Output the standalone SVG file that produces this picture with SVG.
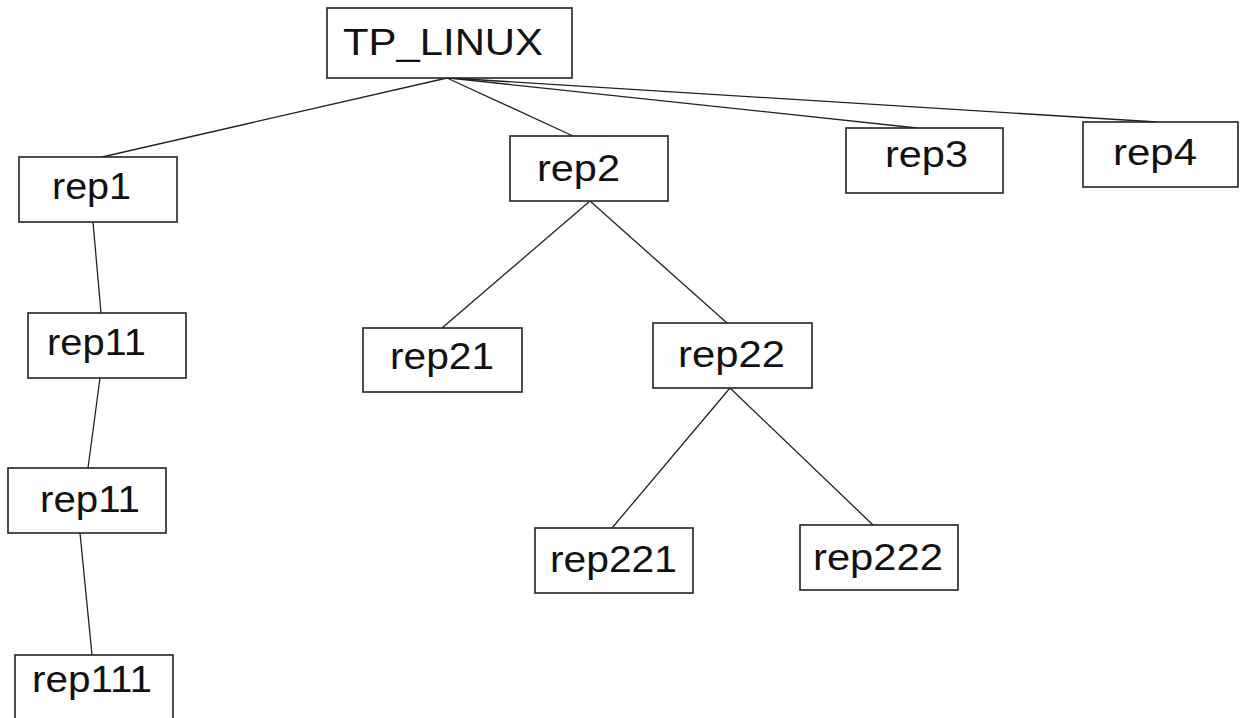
<svg xmlns="http://www.w3.org/2000/svg" width="1240" height="718" viewBox="0 0 1240 718">
<style>
.box{fill:#fff;stroke:#222;stroke-width:1.6}
.lbl{font-family:"Liberation Sans",Arial,sans-serif;font-size:36px;fill:#111}
.edge{stroke:#222;stroke-width:1.3;fill:none}
</style>
<rect width="1240" height="718" fill="#fff"/>
<g id="connectors">
<line class="edge" x1="447" y1="78" x2="102" y2="157"/>
<line class="edge" x1="447" y1="78" x2="573" y2="136"/>
<line class="edge" x1="449" y1="78" x2="917" y2="128"/>
<line class="edge" x1="450" y1="78" x2="1157" y2="122"/>
<line class="edge" x1="93" y1="222" x2="101" y2="313"/>
<line class="edge" x1="100" y1="378" x2="88" y2="468"/>
<line class="edge" x1="80" y1="533" x2="92" y2="655"/>
<line class="edge" x1="590" y1="201" x2="442" y2="328"/>
<line class="edge" x1="590" y1="201" x2="727" y2="323"/>
<line class="edge" x1="730" y1="388" x2="612" y2="528"/>
<line class="edge" x1="730" y1="388" x2="873" y2="525"/>
</g>
<g id="n_tp"><rect class="box" x="327" y="8" width="245" height="70"/><text class="lbl" x="343" y="55" textLength="200" lengthAdjust="spacingAndGlyphs">TP_LINUX</text></g>
<g id="n_rep1"><rect class="box" x="19" y="157" width="158" height="65"/><text class="lbl" x="52" y="199" textLength="79" lengthAdjust="spacingAndGlyphs">rep1</text></g>
<g id="n_rep11a"><rect class="box" x="28" y="313" width="158" height="65"/><text class="lbl" x="47" y="355" textLength="99" lengthAdjust="spacingAndGlyphs">rep11</text></g>
<g id="n_rep11b"><rect class="box" x="8" y="468" width="158" height="65"/><text class="lbl" x="40" y="512" textLength="100" lengthAdjust="spacingAndGlyphs">rep11</text></g>
<g id="n_rep111"><rect class="box" x="15" y="655" width="158" height="65"/><text class="lbl" x="32" y="692" textLength="120" lengthAdjust="spacingAndGlyphs">rep111</text></g>
<g id="n_rep2"><rect class="box" x="510" y="136" width="158" height="65"/><text class="lbl" x="537" y="181" textLength="83" lengthAdjust="spacingAndGlyphs">rep2</text></g>
<g id="n_rep3"><rect class="box" x="846" y="128" width="157" height="65"/><text class="lbl" x="885" y="167" textLength="83" lengthAdjust="spacingAndGlyphs">rep3</text></g>
<g id="n_rep4"><rect class="box" x="1083" y="122" width="155" height="65"/><text class="lbl" x="1113" y="165" textLength="84" lengthAdjust="spacingAndGlyphs">rep4</text></g>
<g id="n_rep21"><rect class="box" x="363" y="328" width="159" height="64"/><text class="lbl" x="390" y="369" textLength="104" lengthAdjust="spacingAndGlyphs">rep21</text></g>
<g id="n_rep22"><rect class="box" x="653" y="323" width="159" height="65"/><text class="lbl" x="678" y="367" textLength="107" lengthAdjust="spacingAndGlyphs">rep22</text></g>
<g id="n_rep221"><rect class="box" x="535" y="528" width="158" height="65"/><text class="lbl" x="550" y="572" textLength="127" lengthAdjust="spacingAndGlyphs">rep221</text></g>
<g id="n_rep222"><rect class="box" x="800" y="525" width="158" height="65"/><text class="lbl" x="813" y="570" textLength="130" lengthAdjust="spacingAndGlyphs">rep222</text></g>
</svg>
